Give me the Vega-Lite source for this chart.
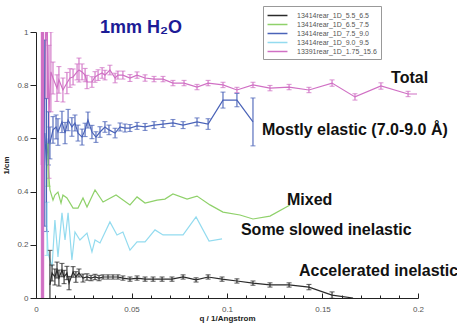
{
  "$schema": "https://vega.github.io/schema/vega-lite/v6.json",
  "width": 382,
  "height": 266,
  "autosize": "none",
  "padding": {"left": 36, "top": 32, "right": 39, "bottom": 27},
  "background": "white",
  "title": {"text": "1mm H₂O", "anchor": "start", "frame": "group", "dx": 64, "dy": 47, "offset": 2, "baseline": "alphabetic", "fontSize": 18, "font": "Liberation Sans", "fontWeight": "bold", "color": "#1c1c96"},
  "config": {"view": {"stroke": null}},
  "resolve": {"axis": {"x": "independent"}, "legend": {"color": "independent"}},
  "datasets": {
    "pts": [
      {"s": "13391rear_1D_1.75_15.6", "q": 0.0028, "v": 0.5, "e": 1.5},
      {"s": "13391rear_1D_1.75_15.6", "q": 0.0031, "v": 1.2, "e": 1.5},
      {"s": "13391rear_1D_1.75_15.6", "q": 0.0034, "v": 0.3, "e": 1.5},
      {"s": "13391rear_1D_1.75_15.6", "q": 0.0037, "v": 1.0, "e": 1.5},
      {"s": "13391rear_1D_1.75_15.6", "q": 0.0040, "v": 0.6, "e": 1.5},
      {"s": "13391rear_1D_1.75_15.6", "q": 0.0052, "v": 1.05, "e": 0.3},
      {"s": "13391rear_1D_1.75_15.6", "q": 0.0060, "v": 0.95, "e": 0.2},
      {"s": "13391rear_1D_1.75_15.6", "q": 0.0068, "v": 0.7, "e": 0.25},
      {"s": "13391rear_1D_1.75_15.6", "q": 0.0078, "v": 0.85, "e": 0.15},
      {"s": "13391rear_1D_1.75_15.6", "q": 0.0089, "v": 0.827, "e": 0.06},
      {"s": "13391rear_1D_1.75_15.6", "q": 0.0110, "v": 0.789, "e": 0.05},
      {"s": "13391rear_1D_1.75_15.6", "q": 0.0120, "v": 0.820, "e": 0.05},
      {"s": "13391rear_1D_1.75_15.6", "q": 0.0141, "v": 0.782, "e": 0.045},
      {"s": "13391rear_1D_1.75_15.6", "q": 0.0162, "v": 0.808, "e": 0.04},
      {"s": "13391rear_1D_1.75_15.6", "q": 0.0178, "v": 0.827, "e": 0.035},
      {"s": "13391rear_1D_1.75_15.6", "q": 0.0194, "v": 0.831, "e": 0.03},
      {"s": "13391rear_1D_1.75_15.6", "q": 0.0215, "v": 0.850, "e": 0.03},
      {"s": "13391rear_1D_1.75_15.6", "q": 0.0225, "v": 0.857, "e": 0.045},
      {"s": "13391rear_1D_1.75_15.6", "q": 0.0241, "v": 0.850, "e": 0.03},
      {"s": "13391rear_1D_1.75_15.6", "q": 0.0257, "v": 0.838, "e": 0.025},
      {"s": "13391rear_1D_1.75_15.6", "q": 0.0267, "v": 0.812, "e": 0.025},
      {"s": "13391rear_1D_1.75_15.6", "q": 0.0293, "v": 0.812, "e": 0.02},
      {"s": "13391rear_1D_1.75_15.6", "q": 0.0309, "v": 0.831, "e": 0.02},
      {"s": "13391rear_1D_1.75_15.6", "q": 0.0325, "v": 0.838, "e": 0.02},
      {"s": "13391rear_1D_1.75_15.6", "q": 0.0346, "v": 0.846, "e": 0.02},
      {"s": "13391rear_1D_1.75_15.6", "q": 0.0361, "v": 0.838, "e": 0.018},
      {"s": "13391rear_1D_1.75_15.6", "q": 0.0387, "v": 0.857, "e": 0.018},
      {"s": "13391rear_1D_1.75_15.6", "q": 0.0414, "v": 0.827, "e": 0.018},
      {"s": "13391rear_1D_1.75_15.6", "q": 0.0429, "v": 0.838, "e": 0.015},
      {"s": "13391rear_1D_1.75_15.6", "q": 0.0455, "v": 0.838, "e": 0.015},
      {"s": "13391rear_1D_1.75_15.6", "q": 0.0492, "v": 0.827, "e": 0.013},
      {"s": "13391rear_1D_1.75_15.6", "q": 0.0529, "v": 0.838, "e": 0.012},
      {"s": "13391rear_1D_1.75_15.6", "q": 0.0571, "v": 0.827, "e": 0.012},
      {"s": "13391rear_1D_1.75_15.6", "q": 0.0618, "v": 0.823, "e": 0.01},
      {"s": "13391rear_1D_1.75_15.6", "q": 0.0665, "v": 0.823, "e": 0.01},
      {"s": "13391rear_1D_1.75_15.6", "q": 0.0717, "v": 0.808, "e": 0.01},
      {"s": "13391rear_1D_1.75_15.6", "q": 0.0775, "v": 0.808, "e": 0.01},
      {"s": "13391rear_1D_1.75_15.6", "q": 0.0843, "v": 0.793, "e": 0.01},
      {"s": "13391rear_1D_1.75_15.6", "q": 0.0901, "v": 0.808, "e": 0.01},
      {"s": "13391rear_1D_1.75_15.6", "q": 0.0979, "v": 0.801, "e": 0.01},
      {"s": "13391rear_1D_1.75_15.6", "q": 0.1052, "v": 0.782, "e": 0.01},
      {"s": "13391rear_1D_1.75_15.6", "q": 0.1136, "v": 0.801, "e": 0.01},
      {"s": "13391rear_1D_1.75_15.6", "q": 0.1225, "v": 0.789, "e": 0.01},
      {"s": "13391rear_1D_1.75_15.6", "q": 0.1325, "v": 0.793, "e": 0.01},
      {"s": "13391rear_1D_1.75_15.6", "q": 0.1429, "v": 0.782, "e": 0.01},
      {"s": "13391rear_1D_1.75_15.6", "q": 0.1550, "v": 0.808, "e": 0.012},
      {"s": "13391rear_1D_1.75_15.6", "q": 0.1670, "v": 0.756, "e": 0.012},
      {"s": "13391rear_1D_1.75_15.6", "q": 0.1806, "v": 0.797, "e": 0.012},
      {"s": "13391rear_1D_1.75_15.6", "q": 0.1948, "v": 0.767, "e": 0.01},
      {"s": "13391rear_1D_1.75_15.6", "q": 0.1995, "v": 0.767},

      {"s": "13414rear_1D_7.5_9.0", "q": 0.0046, "v": 0.62, "e": 0.35},
      {"s": "13414rear_1D_7.5_9.0", "q": 0.0055, "v": 0.5, "e": 0.25},
      {"s": "13414rear_1D_7.5_9.0", "q": 0.0065, "v": 0.6, "e": 0.1},
      {"s": "13414rear_1D_7.5_9.0", "q": 0.0073, "v": 0.583, "e": 0.06},
      {"s": "13414rear_1D_7.5_9.0", "q": 0.0089, "v": 0.632, "e": 0.05},
      {"s": "13414rear_1D_7.5_9.0", "q": 0.0105, "v": 0.643, "e": 0.045},
      {"s": "13414rear_1D_7.5_9.0", "q": 0.0115, "v": 0.624, "e": 0.05},
      {"s": "13414rear_1D_7.5_9.0", "q": 0.0136, "v": 0.662, "e": 0.04},
      {"s": "13414rear_1D_7.5_9.0", "q": 0.0152, "v": 0.620, "e": 0.04},
      {"s": "13414rear_1D_7.5_9.0", "q": 0.0168, "v": 0.669, "e": 0.04},
      {"s": "13414rear_1D_7.5_9.0", "q": 0.0188, "v": 0.643, "e": 0.035},
      {"s": "13414rear_1D_7.5_9.0", "q": 0.0204, "v": 0.658, "e": 0.03},
      {"s": "13414rear_1D_7.5_9.0", "q": 0.0220, "v": 0.620, "e": 0.03},
      {"s": "13414rear_1D_7.5_9.0", "q": 0.0241, "v": 0.605, "e": 0.03},
      {"s": "13414rear_1D_7.5_9.0", "q": 0.0257, "v": 0.632, "e": 0.025},
      {"s": "13414rear_1D_7.5_9.0", "q": 0.0272, "v": 0.669, "e": 0.03},
      {"s": "13414rear_1D_7.5_9.0", "q": 0.0293, "v": 0.624, "e": 0.025},
      {"s": "13414rear_1D_7.5_9.0", "q": 0.0314, "v": 0.605, "e": 0.02},
      {"s": "13414rear_1D_7.5_9.0", "q": 0.0335, "v": 0.624, "e": 0.02},
      {"s": "13414rear_1D_7.5_9.0", "q": 0.0361, "v": 0.643, "e": 0.02},
      {"s": "13414rear_1D_7.5_9.0", "q": 0.0382, "v": 0.632, "e": 0.018},
      {"s": "13414rear_1D_7.5_9.0", "q": 0.0414, "v": 0.620, "e": 0.018},
      {"s": "13414rear_1D_7.5_9.0", "q": 0.0440, "v": 0.643, "e": 0.015},
      {"s": "13414rear_1D_7.5_9.0", "q": 0.0466, "v": 0.639, "e": 0.015},
      {"s": "13414rear_1D_7.5_9.0", "q": 0.0492, "v": 0.639, "e": 0.013},
      {"s": "13414rear_1D_7.5_9.0", "q": 0.0529, "v": 0.647, "e": 0.013},
      {"s": "13414rear_1D_7.5_9.0", "q": 0.0571, "v": 0.643, "e": 0.013},
      {"s": "13414rear_1D_7.5_9.0", "q": 0.0618, "v": 0.650, "e": 0.013},
      {"s": "13414rear_1D_7.5_9.0", "q": 0.0665, "v": 0.654, "e": 0.013},
      {"s": "13414rear_1D_7.5_9.0", "q": 0.0717, "v": 0.658, "e": 0.013},
      {"s": "13414rear_1D_7.5_9.0", "q": 0.0770, "v": 0.650, "e": 0.013},
      {"s": "13414rear_1D_7.5_9.0", "q": 0.0843, "v": 0.662, "e": 0.015},
      {"s": "13414rear_1D_7.5_9.0", "q": 0.0901, "v": 0.654, "e": 0.02},
      {"s": "13414rear_1D_7.5_9.0", "q": 0.0979, "v": 0.744, "e": 0.03},
      {"s": "13414rear_1D_7.5_9.0", "q": 0.1052, "v": 0.744, "e": 0.025},
      {"s": "13414rear_1D_7.5_9.0", "q": 0.1136, "v": 0.662, "e": 0.09},

      {"s": "13414rear_1D_6.5_7.5", "q": 0.0063, "v": 0.5, "e": 0.08},
      {"s": "13414rear_1D_6.5_7.5", "q": 0.0073, "v": 0.406},
      {"s": "13414rear_1D_6.5_7.5", "q": 0.0089, "v": 0.368},
      {"s": "13414rear_1D_6.5_7.5", "q": 0.0099, "v": 0.387},
      {"s": "13414rear_1D_6.5_7.5", "q": 0.0115, "v": 0.398},
      {"s": "13414rear_1D_6.5_7.5", "q": 0.0131, "v": 0.357},
      {"s": "13414rear_1D_6.5_7.5", "q": 0.0141, "v": 0.387},
      {"s": "13414rear_1D_6.5_7.5", "q": 0.0162, "v": 0.376},
      {"s": "13414rear_1D_6.5_7.5", "q": 0.0194, "v": 0.338},
      {"s": "13414rear_1D_6.5_7.5", "q": 0.0220, "v": 0.338},
      {"s": "13414rear_1D_6.5_7.5", "q": 0.0246, "v": 0.376},
      {"s": "13414rear_1D_6.5_7.5", "q": 0.0267, "v": 0.342},
      {"s": "13414rear_1D_6.5_7.5", "q": 0.0309, "v": 0.406},
      {"s": "13414rear_1D_6.5_7.5", "q": 0.0351, "v": 0.361},
      {"s": "13414rear_1D_6.5_7.5", "q": 0.0419, "v": 0.387},
      {"s": "13414rear_1D_6.5_7.5", "q": 0.0492, "v": 0.350},
      {"s": "13414rear_1D_6.5_7.5", "q": 0.0529, "v": 0.380},
      {"s": "13414rear_1D_6.5_7.5", "q": 0.0571, "v": 0.357},
      {"s": "13414rear_1D_6.5_7.5", "q": 0.0634, "v": 0.368},
      {"s": "13414rear_1D_6.5_7.5", "q": 0.0675, "v": 0.372},
      {"s": "13414rear_1D_6.5_7.5", "q": 0.0717, "v": 0.391},
      {"s": "13414rear_1D_6.5_7.5", "q": 0.0791, "v": 0.372},
      {"s": "13414rear_1D_6.5_7.5", "q": 0.0843, "v": 0.383},
      {"s": "13414rear_1D_6.5_7.5", "q": 0.0911, "v": 0.350},
      {"s": "13414rear_1D_6.5_7.5", "q": 0.0979, "v": 0.323},
      {"s": "13414rear_1D_6.5_7.5", "q": 0.1068, "v": 0.312},
      {"s": "13414rear_1D_6.5_7.5", "q": 0.1136, "v": 0.297},
      {"s": "13414rear_1D_6.5_7.5", "q": 0.1225, "v": 0.308},
      {"s": "13414rear_1D_6.5_7.5", "q": 0.1330, "v": 0.350},

      {"s": "13414rear_1D_9.0_9.5", "q": 0.0058, "v": 0.26, "e": 0.1},
      {"s": "13414rear_1D_9.0_9.5", "q": 0.0063, "v": 0.169},
      {"s": "13414rear_1D_9.0_9.5", "q": 0.0084, "v": 0.117},
      {"s": "13414rear_1D_9.0_9.5", "q": 0.0099, "v": 0.293},
      {"s": "13414rear_1D_9.0_9.5", "q": 0.0115, "v": 0.154},
      {"s": "13414rear_1D_9.0_9.5", "q": 0.0136, "v": 0.320},
      {"s": "13414rear_1D_9.0_9.5", "q": 0.0152, "v": 0.218},
      {"s": "13414rear_1D_9.0_9.5", "q": 0.0168, "v": 0.320},
      {"s": "13414rear_1D_9.0_9.5", "q": 0.0188, "v": 0.143},
      {"s": "13414rear_1D_9.0_9.5", "q": 0.0204, "v": 0.248},
      {"s": "13414rear_1D_9.0_9.5", "q": 0.0230, "v": 0.218},
      {"s": "13414rear_1D_9.0_9.5", "q": 0.0267, "v": 0.244},
      {"s": "13414rear_1D_9.0_9.5", "q": 0.0293, "v": 0.173},
      {"s": "13414rear_1D_9.0_9.5", "q": 0.0309, "v": 0.218},
      {"s": "13414rear_1D_9.0_9.5", "q": 0.0335, "v": 0.207},
      {"s": "13414rear_1D_9.0_9.5", "q": 0.0387, "v": 0.286},
      {"s": "13414rear_1D_9.0_9.5", "q": 0.0424, "v": 0.237},
      {"s": "13414rear_1D_9.0_9.5", "q": 0.0455, "v": 0.248},
      {"s": "13414rear_1D_9.0_9.5", "q": 0.0492, "v": 0.180},
      {"s": "13414rear_1D_9.0_9.5", "q": 0.0529, "v": 0.211},
      {"s": "13414rear_1D_9.0_9.5", "q": 0.0571, "v": 0.211},
      {"s": "13414rear_1D_9.0_9.5", "q": 0.0623, "v": 0.256},
      {"s": "13414rear_1D_9.0_9.5", "q": 0.0665, "v": 0.237},
      {"s": "13414rear_1D_9.0_9.5", "q": 0.0712, "v": 0.237},
      {"s": "13414rear_1D_9.0_9.5", "q": 0.0770, "v": 0.237},
      {"s": "13414rear_1D_9.0_9.5", "q": 0.0838, "v": 0.305},
      {"s": "13414rear_1D_9.0_9.5", "q": 0.0906, "v": 0.214},
      {"s": "13414rear_1D_9.0_9.5", "q": 0.0974, "v": 0.222},

      {"s": "13414rear_1D_5.5_6.5", "q": 0.0073, "v": 0.049, "e": 0.13},
      {"s": "13414rear_1D_5.5_6.5", "q": 0.0084, "v": 0.094, "e": 0.03},
      {"s": "13414rear_1D_5.5_6.5", "q": 0.0099, "v": 0.079, "e": 0.03},
      {"s": "13414rear_1D_5.5_6.5", "q": 0.0110, "v": 0.105, "e": 0.03},
      {"s": "13414rear_1D_5.5_6.5", "q": 0.0120, "v": 0.075, "e": 0.03},
      {"s": "13414rear_1D_5.5_6.5", "q": 0.0136, "v": 0.105, "e": 0.025},
      {"s": "13414rear_1D_5.5_6.5", "q": 0.0147, "v": 0.079, "e": 0.025},
      {"s": "13414rear_1D_5.5_6.5", "q": 0.0162, "v": 0.094, "e": 0.025},
      {"s": "13414rear_1D_5.5_6.5", "q": 0.0173, "v": 0.056, "e": 0.025},
      {"s": "13414rear_1D_5.5_6.5", "q": 0.0194, "v": 0.098, "e": 0.02},
      {"s": "13414rear_1D_5.5_6.5", "q": 0.0209, "v": 0.079, "e": 0.02},
      {"s": "13414rear_1D_5.5_6.5", "q": 0.0225, "v": 0.094, "e": 0.015},
      {"s": "13414rear_1D_5.5_6.5", "q": 0.0246, "v": 0.075, "e": 0.015},
      {"s": "13414rear_1D_5.5_6.5", "q": 0.0267, "v": 0.079, "e": 0.012},
      {"s": "13414rear_1D_5.5_6.5", "q": 0.0288, "v": 0.075, "e": 0.01},
      {"s": "13414rear_1D_5.5_6.5", "q": 0.0309, "v": 0.079, "e": 0.01},
      {"s": "13414rear_1D_5.5_6.5", "q": 0.0330, "v": 0.075, "e": 0.01},
      {"s": "13414rear_1D_5.5_6.5", "q": 0.0351, "v": 0.079, "e": 0.008},
      {"s": "13414rear_1D_5.5_6.5", "q": 0.0377, "v": 0.079, "e": 0.008},
      {"s": "13414rear_1D_5.5_6.5", "q": 0.0403, "v": 0.079, "e": 0.008},
      {"s": "13414rear_1D_5.5_6.5", "q": 0.0429, "v": 0.079, "e": 0.008},
      {"s": "13414rear_1D_5.5_6.5", "q": 0.0455, "v": 0.075, "e": 0.008},
      {"s": "13414rear_1D_5.5_6.5", "q": 0.0492, "v": 0.071, "e": 0.008},
      {"s": "13414rear_1D_5.5_6.5", "q": 0.0529, "v": 0.075, "e": 0.008},
      {"s": "13414rear_1D_5.5_6.5", "q": 0.0571, "v": 0.071, "e": 0.008},
      {"s": "13414rear_1D_5.5_6.5", "q": 0.0613, "v": 0.071, "e": 0.008},
      {"s": "13414rear_1D_5.5_6.5", "q": 0.0660, "v": 0.071, "e": 0.008},
      {"s": "13414rear_1D_5.5_6.5", "q": 0.0712, "v": 0.071, "e": 0.008},
      {"s": "13414rear_1D_5.5_6.5", "q": 0.0770, "v": 0.079, "e": 0.008},
      {"s": "13414rear_1D_5.5_6.5", "q": 0.0838, "v": 0.068, "e": 0.008},
      {"s": "13414rear_1D_5.5_6.5", "q": 0.0901, "v": 0.079, "e": 0.008},
      {"s": "13414rear_1D_5.5_6.5", "q": 0.0974, "v": 0.071, "e": 0.008},
      {"s": "13414rear_1D_5.5_6.5", "q": 0.1052, "v": 0.064, "e": 0.008},
      {"s": "13414rear_1D_5.5_6.5", "q": 0.1136, "v": 0.056, "e": 0.008},
      {"s": "13414rear_1D_5.5_6.5", "q": 0.1225, "v": 0.049, "e": 0.008},
      {"s": "13414rear_1D_5.5_6.5", "q": 0.1325, "v": 0.049, "e": 0.008},
      {"s": "13414rear_1D_5.5_6.5", "q": 0.1429, "v": 0.041, "e": 0.01},
      {"s": "13414rear_1D_5.5_6.5", "q": 0.1550, "v": 0.011, "e": 0.012},
      {"s": "13414rear_1D_5.5_6.5", "q": 0.1660, "v": 0.0}
    ],
    "notes": [
      {"label": "Total", "q": 0.1859, "v": 0.827},
      {"label": "Mostly elastic (7.0-9.0 Å)", "q": 0.1183, "v": 0.632},
      {"label": "Mixed", "q": 0.1314, "v": 0.368},
      {"label": "Some slowed inelastic", "q": 0.1073, "v": 0.256},
      {"label": "Accelerated inelastic", "q": 0.1377, "v": 0.1015}
    ]
  },
  "layer": [
    {
      "data": {"name": "pts"},
      "mark": {"type": "line", "clip": true, "strokeWidth": 1.2},
      "encoding": {
        "x": {
          "field": "q", "type": "quantitative",
          "scale": {"domain": [0, 0.2], "nice": false, "zero": false},
          "axis": {
            "title": "q / 1/Angstrom",
            "titleFont": "Liberation Sans", "titleFontSize": 8, "titleFontWeight": "bold", "titleColor": "#222", "titlePadding": 1,
            "values": [0, 0.05, 0.1, 0.15, 0.2],
            "format": "~g",
            "labelFont": "Liberation Sans", "labelFontSize": 8, "labelColor": "#555", "labelPadding": 12, "labelFlush": false, "labelOverlap": false,
            "tickSize": -5,
            "tickColor": "#222", "domainColor": "#222", "grid": false
          }
        },
        "y": {
          "field": "v", "type": "quantitative", "title": "1/cm",
          "scale": {"domain": [0, 1], "nice": false},
          "axis": {
            "titleFont": "Liberation Sans", "titleFontSize": 8, "titleFontWeight": "bold", "titleColor": "#222", "titlePadding": 6,
            "values": [0, 0.05, 0.1, 0.15, 0.2, 0.25, 0.3, 0.35, 0.4, 0.45, 0.5, 0.55, 0.6, 0.65, 0.7, 0.75, 0.8, 0.85, 0.9, 0.95, 1],
            "labelExpr": "abs(datum.value*5 - round(datum.value*5)) < 0.001 ? format(datum.value, '~g') : ''",
            "labelFont": "Liberation Sans", "labelFontSize": 8, "labelColor": "#555", "labelPadding": 2, "labelFlush": false, "labelOverlap": false,
            "tickSize": {"condition": {"test": "abs(datum.value*5 - round(datum.value*5)) < 0.001", "value": 6}, "value": 3},
            "tickColor": "#222", "domainColor": "#222", "grid": false
          }
        },
        "color": {
          "field": "s", "type": "nominal",
          "scale": {
            "domain": ["13414rear_1D_5.5_6.5", "13414rear_1D_6.5_7.5", "13414rear_1D_7.5_9.0", "13414rear_1D_9.0_9.5", "13391rear_1D_1.75_15.6"],
            "range": ["#2a2a2a", "#8fd16a", "#4a63b8", "#93dbef", "#d070c4"]
          },
          "legend": {
            "title": null, "orient": "none", "legendX": 227, "legendY": -26,
            "direction": "vertical", "strokeColor": "#999", "fillColor": "white", "padding": 4, "cornerRadius": 0,
            "symbolType": "M-2.1,0H2.1", "symbolSize": 90, "symbolStrokeWidth": 1.5, "symbolOffset": 5, "symbolFillColor": "transparent",
            "labelFont": "Liberation Sans", "labelFontSize": 7, "labelColor": "#555", "rowPadding": 0, "labelOffset": 14, "labelLimit": 95
          }
        }
      }
    },
    {
      "data": {"name": "pts"},
      "transform": [{"filter": "isValid(datum.e)"}],
      "mark": {"type": "errorbar", "clip": true, "ticks": {"size": 5}, "thickness": 1.1},
      "encoding": {
        "x": {
          "field": "q", "type": "quantitative",
          "axis": {
            "title": null, "orient": "bottom", "domain": false, "labels": false, "grid": false,
            "values": [0.01, 0.02, 0.03, 0.04, 0.06, 0.07, 0.08, 0.09, 0.11, 0.12, 0.13, 0.14, 0.16, 0.17, 0.18, 0.19],
            "tickSize": -3, "tickColor": "#222"
          }
        },
        "y": {"field": "v", "type": "quantitative", "title": "1/cm"},
        "yError": {"field": "e"},
        "color": {"field": "s", "type": "nominal", "legend": null}
      }
    },
    {
      "data": {"name": "notes"},
      "mark": {"type": "text", "align": "left", "baseline": "middle", "font": "Liberation Sans", "fontSize": 16, "fontWeight": "bold", "color": "#111", "clip": false},
      "encoding": {
        "x": {"field": "q", "type": "quantitative", "axis": null},
        "y": {"field": "v", "type": "quantitative", "title": "1/cm"},
        "text": {"field": "label"}
      }
    }
  ]
}
